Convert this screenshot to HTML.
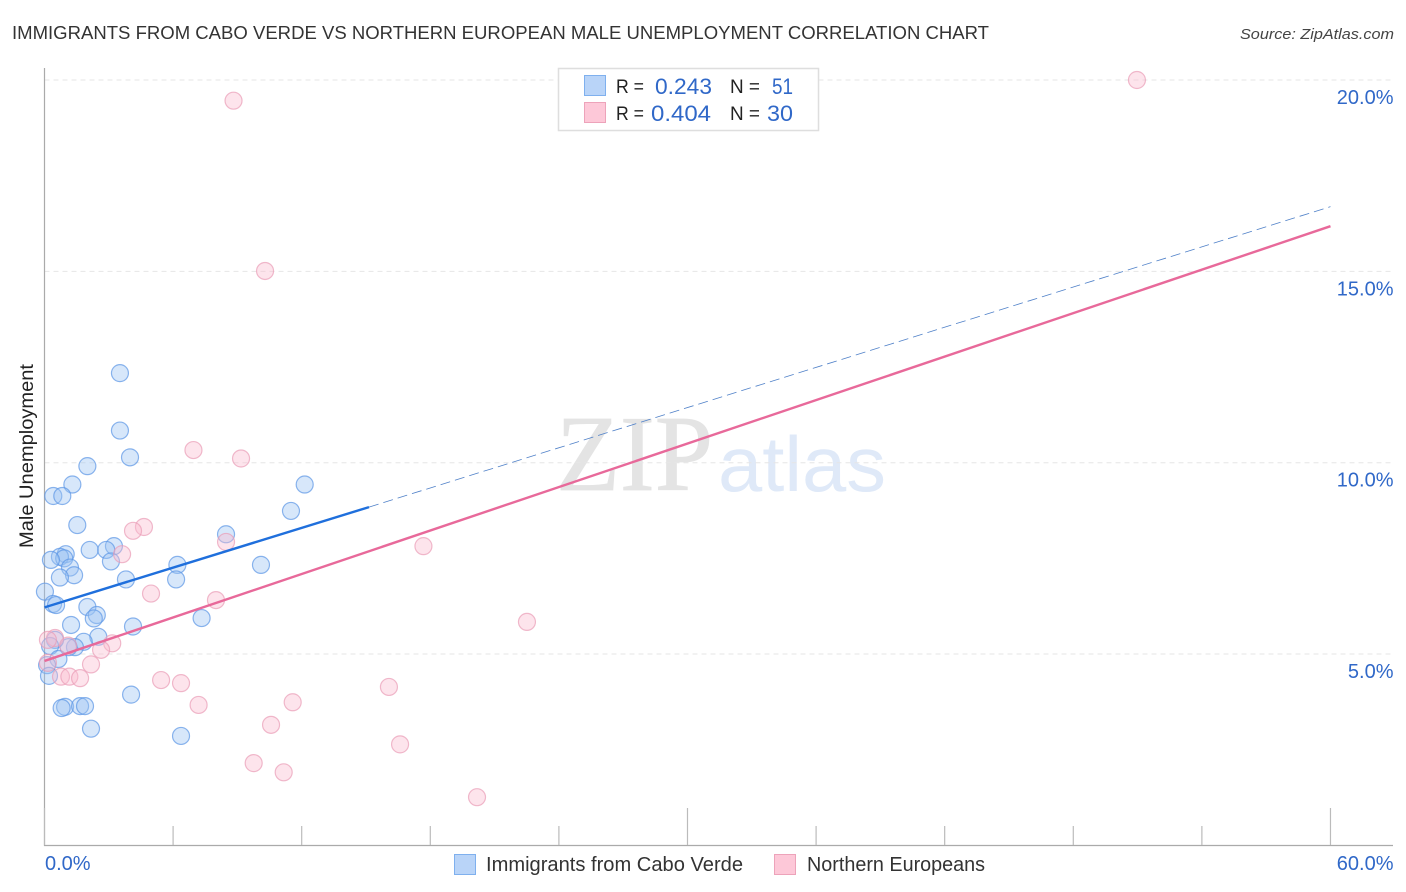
<!DOCTYPE html>
<html lang="en">
<head>
<meta charset="utf-8">
<title>Immigrants from Cabo Verde vs Northern European Male Unemployment Correlation Chart</title>
<style>
html,body{margin:0;padding:0;background:#fff;width:1406px;height:892px;overflow:hidden}
svg{display:block}
text{font-family:"Liberation Sans",sans-serif}
</style>
</head>
<body>
<svg id="chart" width="1406" height="892" viewBox="0 0 1406 892" xmlns="http://www.w3.org/2000/svg">
  <text x="12" y="39" font-size="18.5" fill="#333" textLength="977" lengthAdjust="spacingAndGlyphs">IMMIGRANTS FROM CABO VERDE VS NORTHERN EUROPEAN MALE UNEMPLOYMENT CORRELATION CHART</text>
  <text x="1394" y="39" font-size="15" font-style="italic" fill="#444" text-anchor="end" textLength="154" lengthAdjust="spacingAndGlyphs">Source: ZipAtlas.com</text>

  <g id="watermark">
    <text x="556" y="490" font-size="108" style="font-family:'Liberation Serif',serif" fill="#e4e4e4" stroke="#e4e4e4" stroke-width="0.8" textLength="157" lengthAdjust="spacingAndGlyphs">ZIP</text>
    <text x="718" y="491" font-size="78" fill="#dfe9f8" textLength="168" lengthAdjust="spacingAndGlyphs">atlas</text>
  </g>

  <g id="grid"></g>
  <g id="axes"></g>
  <g id="points-blue"></g>
  <g id="points-pink"></g>
  <g id="trends"></g>
  <g id="tick-labels"></g>

  <text transform="translate(33,456) rotate(-90)" font-size="19" fill="#222" text-anchor="middle" textLength="184" lengthAdjust="spacingAndGlyphs">Male Unemployment</text>

  <g>
    <rect x="558.5" y="68.5" width="260" height="62" fill="#fff" stroke="#dedede" stroke-width="1.5"/>
    <rect x="584.5" y="75.5" width="21" height="20" fill="#b9d4f8" stroke="#7fb0ee" stroke-width="1"/>
    <rect x="584.5" y="102.5" width="21" height="20" fill="#fdc8d8" stroke="#eda3ba" stroke-width="1"/>
    <text x="616" y="93" font-size="19" fill="#222" textLength="28" lengthAdjust="spacingAndGlyphs">R =</text>
    <text x="712" y="94" font-size="22" fill="#3068c8" text-anchor="end" textLength="57" lengthAdjust="spacingAndGlyphs">0.243</text>
    <text x="730" y="93" font-size="19" fill="#222" textLength="30" lengthAdjust="spacingAndGlyphs">N =</text>
    <text x="793" y="94" font-size="22" fill="#3068c8" text-anchor="end" textLength="21" lengthAdjust="spacingAndGlyphs">51</text>
    <text x="616" y="120" font-size="19" fill="#222" textLength="28" lengthAdjust="spacingAndGlyphs">R =</text>
    <text x="711" y="121" font-size="22" fill="#3068c8" text-anchor="end" textLength="60" lengthAdjust="spacingAndGlyphs">0.404</text>
    <text x="730" y="120" font-size="19" fill="#222" textLength="30" lengthAdjust="spacingAndGlyphs">N =</text>
    <text x="793" y="121" font-size="22" fill="#3068c8" text-anchor="end" textLength="26" lengthAdjust="spacingAndGlyphs">30</text>
  </g>

  <g>
    <rect x="454.5" y="854.5" width="21" height="20" fill="#b9d4f8" stroke="#7fb0ee" stroke-width="1"/>
    <text x="486" y="871" font-size="20" fill="#333" textLength="257" lengthAdjust="spacingAndGlyphs">Immigrants from Cabo Verde</text>
    <rect x="774.5" y="854.5" width="21" height="20" fill="#fdc8d8" stroke="#eda3ba" stroke-width="1"/>
    <text x="807" y="871" font-size="20" fill="#333" textLength="178" lengthAdjust="spacingAndGlyphs">Northern Europeans</text>
  </g>
</svg>

<script>
// Chart data
const yTickValues = [5, 10, 15, 20];
const yTickLabels = ["5.0%", "10.0%", "15.0%", "20.0%"];
const xTickValues = [0, 6, 12, 18, 24, 30, 36, 42, 48, 54, 60];
const xMajorTicks = [0, 30, 60];
const xEndLabels = ["0.0%", "60.0%"];
const caboVerdeX = [3.52,3.52,3.99,2.00,1.30,0.41,0.83,1.53,8.47,12.14,11.50,2.11,3.24,2.88,3.10,0.99,0.72,0.92,0.30,1.19,1.38,0.72,3.80,6.20,6.14,10.10,0.02,0.40,0.54,2.00,2.44,2.30,7.33,1.24,4.13,2.51,1.83,1.42,1.12,0.49,0.26,0.65,0.12,0.21,4.04,0.96,0.80,1.66,1.89,2.17,6.37];
const caboVerdeY = [12.34,10.84,10.14,9.91,9.43,9.13,9.13,8.37,8.13,9.43,8.74,7.72,7.82,7.72,7.42,7.61,7.54,7.50,7.46,7.26,7.06,7.00,6.95,7.33,6.95,7.33,6.63,6.31,6.28,6.23,6.02,5.93,5.94,5.76,5.72,5.45,5.32,5.18,5.18,5.37,5.21,4.87,4.71,4.43,3.94,3.62,3.59,3.64,3.64,3.05,2.86];
const northernX = [50.97,8.82,10.29,6.95,9.17,4.64,4.13,8.47,3.62,17.68,4.97,8.00,22.51,3.16,2.64,2.17,0.49,0.16,0.16,0.77,1.16,1.66,1.10,5.44,6.37,7.19,11.58,10.57,9.76,11.16,16.07,16.59,20.18];
const northernY = [20.00,19.46,15.01,10.33,10.11,8.32,8.22,7.93,7.61,7.82,6.58,6.41,5.84,5.28,5.11,4.73,5.42,5.37,4.77,4.41,4.41,4.37,5.22,4.32,4.24,3.67,3.74,3.15,2.15,1.91,4.14,2.64,1.26];
const caboSolidTrendX = [0, 15.14];
const caboSolidTrendY = [6.22, 8.84];
const caboDashedTrendX = [15.14, 60];
const caboDashedTrendY = [8.84, 16.69];
const northernTrendX = [0, 60];
const northernTrendY = [4.82, 16.18];

// Axis functions
function xScale(v) { return 44.5 + v * 21.433; }
function yScale(v) { return 845.4 - v * 38.27; }

const NS = 'http://www.w3.org/2000/svg';
function make(tag, parentId, attrs) {
  const el = document.createElementNS(NS, tag);
  for (const k in attrs) el.setAttribute(k, attrs[k]);
  document.getElementById(parentId).appendChild(el);
  return el;
}

// Gridlines and right-hand tick labels
yTickValues.forEach(function (v, i) {
  const line = make('line', 'grid', {x1: 44.5, x2: 1393, y1: yScale(v), y2: yScale(v), stroke: '#e6e6e6', 'stroke-width': 1, 'stroke-dasharray': '5 4'});
  
  
  const label = make('text', 'tick-labels', {x: 1393.5, y: yScale(v) + 24, 'font-size': 20, fill: '#3068c8', 'text-anchor': 'end'});
  label.textContent = yTickLabels[i];
  
  
});

// Axis lines
const yAxis = make('line', 'axes', {x1: 44.5, x2: 44.5, y1: 68, y2: 846, stroke: '#aaa', 'stroke-width': 1.2});


const xAxis = make('line', 'axes', {x1: 44, x2: 1393, y1: 845.5, y2: 845.5, stroke: '#aaa', 'stroke-width': 1.2});



// X ticks
xTickValues.forEach(function (v) {
  const top = xMajorTicks.indexOf(v) >= 0 ? 808 : 826;
  const tick = make('line', 'axes', {x1: xScale(v), x2: xScale(v), y1: top, y2: 845, stroke: '#bbb', 'stroke-width': 1.2});
  
  
});

// X end labels
const xLabelLeft = make('text', 'tick-labels', {x: 45, y: 870, 'font-size': 20, fill: '#3068c8'});
xLabelLeft.textContent = xEndLabels[0];


const xLabelRight = make('text', 'tick-labels', {x: 1393.5, y: 870, 'font-size': 20, fill: '#3068c8', 'text-anchor': 'end'});
xLabelRight.textContent = xEndLabels[1];



// Points
caboVerdeX.forEach(function (v, i) {
  const c = make('circle', 'points-blue', {cx: xScale(v), cy: yScale(caboVerdeY[i]), r: 8.5, fill: '#9cc3f3', 'fill-opacity': 0.4, stroke: '#5b96e6', 'stroke-opacity': 0.7, 'stroke-width': 1.2});
  
  
});
northernX.forEach(function (v, i) {
  const c = make('circle', 'points-pink', {cx: xScale(v), cy: yScale(northernY[i]), r: 8.5, fill: '#f9bccf', 'fill-opacity': 0.4, stroke: '#ea9db6', 'stroke-opacity': 0.7, 'stroke-width': 1.2});
  
  
});

// Trend lines
const caboDashed = make('line', 'trends', {x1: xScale(caboDashedTrendX[0]), y1: yScale(caboDashedTrendY[0]), x2: xScale(caboDashedTrendX[1]), y2: yScale(caboDashedTrendY[1]), stroke: '#4f80c8', 'stroke-width': 0.8, 'stroke-dasharray': '10 5'});


const caboSolid = make('line', 'trends', {x1: xScale(caboSolidTrendX[0]), y1: yScale(caboSolidTrendY[0]), x2: xScale(caboSolidTrendX[1]), y2: yScale(caboSolidTrendY[1]), stroke: '#1f6fdc', 'stroke-width': 2.4});


const pinkTrend = make('line', 'trends', {x1: xScale(northernTrendX[0]), y1: yScale(northernTrendY[0]), x2: xScale(northernTrendX[1]), y2: yScale(northernTrendY[1]), stroke: '#e8699a', 'stroke-width': 2.4});


</script>
</body>
</html>
